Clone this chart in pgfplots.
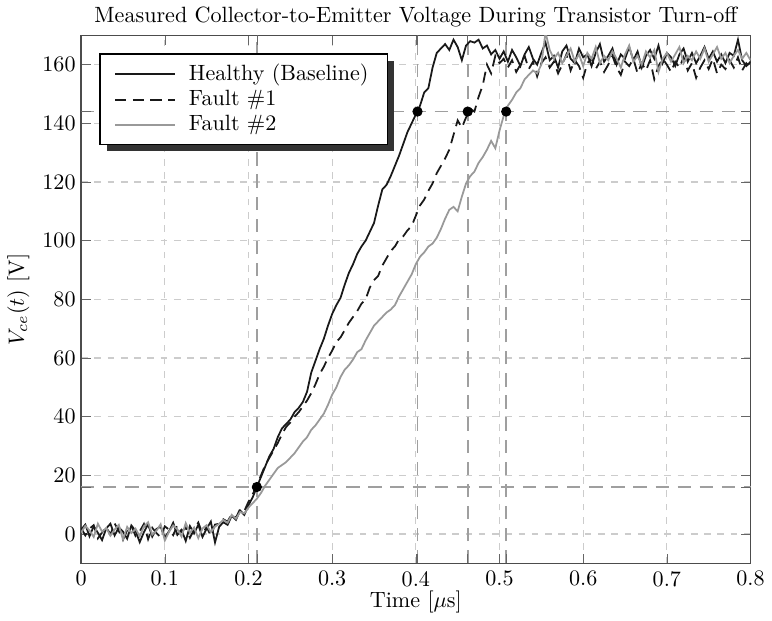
\documentclass[border=0pt]{standalone}
\usepackage{pgfplots}
\usepackage{pgfplotstable}
\pgfplotsset{compat=1.18}
\usetikzlibrary{shadows}
\pgfplotstableread{
t h f1 f2
0.000 1.5 2.0 0.5
0.005 3.2 -0.5 2.8
0.010 -0.8 1.8 1.2
0.015 2.6 3.0 -1.0
0.020 0.4 -1.5 3.5
0.025 -2.1 0.5 0.8
0.030 1.9 2.4 2.0
0.035 3.5 -0.2 -0.6
0.040 -0.5 3.6 1.5
0.045 2.2 1.0 3.1
0.050 0.8 -2.0 -1.9
0.055 -1.6 1.3 2.4
0.060 2.9 2.8 0.3
0.065 1.1 -0.7 1.8
0.070 -2.8 0.9 -0.8
0.075 0.6 3.4 2.6
0.080 3.3 -1.8 4.0
0.085 -0.9 2.1 -0.2
0.090 1.7 0.3 1.1
0.095 2.5 -1.1 3.3
0.100 -1.2 2.6 -2.2
0.105 0.9 1.5 0.7
0.110 3.8 -0.4 2.9
0.115 -0.3 3.0 1.6
0.120 1.4 0.7 -0.9
0.125 -2.4 2.2 3.7
0.130 2.7 -1.3 0.4
0.135 0.2 1.6 2.2
0.140 3.1 3.9 -1.4
0.145 -1.0 0.1 1.9
0.150 1.8 2.4 3.0
0.155 4.2 -0.6 0.6
0.160 -2.9 3.2 2.5
0.165 2.5 3.5 3.5
0.170 4.0 5.0 4.8
0.175 3.1 4.2 3.8
0.180 6.2 6.8 6.5
0.185 4.8 5.5 5.2
0.190 8.0 8.5 7.5
0.195 6.5 7.8 7.0
0.200 9.8 11.0 9.0
0.205 12.5 13.5 10.5
0.210 16.0 16.5 12.0
0.215 19.5 20.0 14.0
0.220 23.0 23.5 16.5
0.225 26.5 26.0 18.5
0.230 29.0 28.5 20.5
0.235 33.0 31.0 22.5
0.240 36.0 34.0 23.5
0.245 37.5 36.5 24.5
0.250 39.0 38.0 26.0
0.255 41.5 40.0 27.5
0.260 43.0 41.5 29.5
0.265 45.0 43.5 31.5
0.270 48.5 45.5 33.0
0.275 55.0 48.0 35.5
0.280 59.0 51.0 37.0
0.285 63.0 54.5 39.0
0.290 66.5 57.0 41.0
0.295 71.0 60.0 44.0
0.300 75.0 62.5 47.5
0.305 78.0 65.5 50.0
0.310 80.5 67.0 53.5
0.315 85.0 69.5 56.0
0.320 89.0 72.0 57.5
0.325 92.0 74.0 59.5
0.330 95.5 76.0 62.0
0.335 98.0 78.5 63.0
0.340 100.0 80.0 66.0
0.345 103.0 84.0 68.5
0.350 106.0 86.5 71.0
0.355 112.0 88.0 72.5
0.360 117.5 91.5 74.0
0.365 119.0 94.0 75.5
0.370 122.0 96.5 76.5
0.375 125.5 98.0 78.0
0.380 129.0 100.5 81.0
0.385 133.0 101.5 83.5
0.390 137.0 103.5 86.0
0.395 140.0 105.0 88.5
0.400 143.0 108.5 92.0
0.405 146.0 112.0 94.5
0.410 150.5 114.0 96.0
0.415 152.0 117.0 98.0
0.420 159.0 119.5 99.0
0.425 164.0 123.0 101.0
0.430 165.5 125.5 104.0
0.435 167.0 128.0 107.5
0.440 165.0 131.0 110.5
0.445 168.5 136.0 111.5
0.450 166.0 141.0 110.0
0.455 161.5 138.5 115.0
0.460 166.5 142.0 119.5
0.465 168.0 145.0 122.0
0.470 167.5 144.0 123.5
0.475 168.5 149.0 126.5
0.480 165.5 153.0 128.5
0.485 166.5 160.0 131.0
0.490 163.5 157.0 134.0
0.495 165.0 163.0 131.5
0.500 162.0 160.5 137.5
0.505 164.5 162.0 142.5
0.510 161.0 159.0 146.0
0.515 165.0 161.5 148.0
0.520 162.5 157.5 150.5
0.525 159.5 160.0 152.0
0.530 163.5 163.0 155.0
0.535 166.0 158.5 156.5
0.540 162.0 161.0 158.0
0.545 160.0 156.0 157.0
0.550 164.0 160.5 160.0
0.555 167.5 162.5 171.0
0.560 161.5 159.0 165.0
0.565 163.0 161.0 162.0
0.570 159.0 157.0 164.0
0.575 164.5 160.0 160.5
0.580 166.5 163.5 163.0
0.585 162.0 158.0 165.5
0.590 160.5 161.5 161.0
0.595 165.5 159.5 163.5
0.600 162.5 155.5 159.5
0.605 163.5 160.5 164.0
0.610 159.5 162.0 162.0
0.615 164.0 158.5 166.0
0.620 167.0 161.0 160.5
0.625 161.0 157.5 163.0
0.630 163.0 160.0 161.5
0.635 165.5 163.0 164.5
0.640 160.0 159.0 162.0
0.645 163.5 156.5 159.0
0.650 162.0 161.0 163.5
0.655 166.0 159.5 166.5
0.660 161.5 162.0 161.0
0.665 164.5 157.0 163.0
0.670 159.0 160.5 160.0
0.675 163.0 158.0 164.5
0.680 165.0 161.5 162.5
0.685 162.0 155.0 165.0
0.690 166.5 159.5 157.5
0.695 160.5 162.0 162.0
0.700 164.0 160.0 164.0
0.705 162.5 157.5 161.0
0.710 159.5 161.0 163.5
0.715 163.5 159.0 166.0
0.720 165.5 162.5 160.5
0.725 161.0 158.0 163.0
0.730 164.0 160.5 161.5
0.735 160.5 155.5 164.5
0.740 163.0 159.0 162.0
0.745 166.0 161.5 165.5
0.750 162.0 158.5 161.0
0.755 164.5 162.0 163.5
0.760 161.0 157.0 166.0
0.765 163.5 160.0 162.0
0.770 160.5 158.5 164.0
0.775 164.0 161.5 160.5
0.780 163.0 159.0 163.0
0.785 168.5 162.5 165.0
0.790 161.5 158.0 162.0
0.795 159.5 160.5 164.0
0.800 161.0 159.0 161.5
}\datatable
\begin{document}
\begin{tikzpicture}
\begin{axis}[
  scale only axis,
  width=303pt, height=239pt,
  xmin=0, xmax=0.8, ymin=-10, ymax=170,
  xtick={0,0.1,...,0.8},
  xticklabels={0,0.1,0.2,0.3,0.4,0.5,0.6,0.7,0.8},
  ytick={0,20,...,160},
  grid=major,
  major grid style={draw=gray!40, dash pattern=on 3pt off 3pt, line width=0.5pt},
  axis line style={draw=black!70, line width=0.7pt},
  tick style={draw=black!60},
  extra x ticks={0.21,0.402,0.462,0.508},
  extra x tick labels={},
  extra y ticks={16,144},
  extra y tick labels={},
  extra tick style={grid=major, major grid style={draw=gray!75, dash pattern=on 6pt off 4pt, line width=0.8pt}},
  title={Measured Collector-to-Emitter Voltage During Transistor Turn-off},
  title style={yshift=-6pt},
  xlabel={Time [$\mu$s]},
  ylabel={$V_{ce}(t)$ [V]},
  xlabel style={yshift=5pt},
  ylabel shift=-1pt,
  yticklabel style={xshift=1pt},
  legend cell align=left,
  legend style={at={(0.027,0.966)}, anchor=north west, draw=black, line width=0.6pt, fill=white,
    drop shadow={shadow xshift=3pt, shadow yshift=-3pt, fill=black!80, opacity=1},
    inner xsep=6.5pt, inner ysep=2.5pt, row sep=-1pt, font=\normalsize,
    /tikz/every odd column/.append style={column sep=4pt}},
  legend image code/.code={\begin{scope}[#1]\pgfpathmoveto{\pgfpoint{0cm}{0cm}}\pgfpathlineto{\pgfpoint{0.95cm}{0cm}}\pgfusepath{stroke}\end{scope}},
]
\addplot[black!90, line width=0.8pt] table[x=t, y=h] {\datatable};
\addlegendentry{Healthy (Baseline)}
\addplot[black!90, line width=0.8pt, dash pattern=on 5pt off 3pt] table[x=t, y=f1] {\datatable};
\addlegendentry{Fault \#1}
\addplot[black!40, line width=0.8pt] table[x=t, y=f2] {\datatable};
\addlegendentry{Fault \#2}
\addplot[only marks, mark=*, mark size=2.1pt, black, forget plot] coordinates {(0.21,16) (0.402,144) (0.462,144) (0.508,144)};
\end{axis}
\end{tikzpicture}
\end{document}
